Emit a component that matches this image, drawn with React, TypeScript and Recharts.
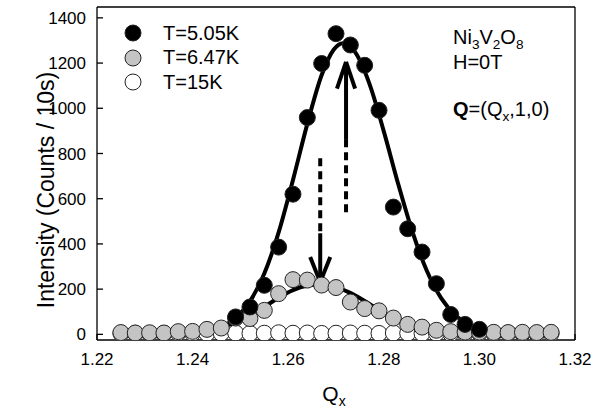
import { ComposedChart, Scatter, Line, XAxis, YAxis, ReferenceLine, Legend } from "recharts"

// measured Qx positions (step 0.003)
const qx = [
    1.225, 1.228, 1.231, 1.234, 1.237, 1.240, 1.243, 1.246, 1.249, 1.252, 1.255,
    1.258, 1.261, 1.264, 1.267, 1.270, 1.273, 1.276, 1.279, 1.282, 1.285, 1.288,
    1.291, 1.294, 1.297, 1.300, 1.303, 1.306, 1.309, 1.312, 1.315
]

// T = 15K
const t15 = [4, 5, 3, 4, 6, 5, 4, 5, 6, 4, 5, 7, 5, 6, 4, 5, 6, 5, 4, 6, 5, 4, 5, 3, 4, 5, 4, 5, 4, 3, 4]

// T = 6.47K
const t647 = [8, 6, 7, 6, 12, 13, 22, 28, 72, 70, 106, 180, 242, 240, 218, 207, 143, 114, 104, 72, 44, 32, 18, 12, 10, 10, 9, 8, 9, 8, 9]

// T = 5.05K (only visible from 1.249 to 1.300)
const qxLow = [1.249, 1.252, 1.255, 1.258, 1.261, 1.264, 1.267, 1.270, 1.273, 1.276, 1.279, 1.282, 1.285, 1.288, 1.291, 1.294, 1.297, 1.300]
const t505 = [77, 121, 217, 386, 620, 959, 1198, 1330, 1280, 1190, 991, 563, 467, 364, 224, 88, 44, 22]

// fitted curves
const fitQ5 = [1.225, 1.235, 1.240, 1.244, 1.248, 1.252, 1.255, 1.258, 1.261, 1.264, 1.267, 1.2695, 1.2715, 1.274, 1.277, 1.280, 1.283, 1.286, 1.289, 1.292, 1.295, 1.298, 1.302, 1.307, 1.315]
const fit505 = [3, 4, 7, 19, 56, 146, 269, 451, 683, 931, 1147, 1259, 1288, 1248, 1108, 898, 666, 453, 281, 160, 84, 41, 15, 5, 3]

const fitQ6 = [1.225, 1.235, 1.240, 1.244, 1.248, 1.252, 1.255, 1.258, 1.261, 1.264, 1.2665, 1.2695, 1.2725, 1.276, 1.279, 1.282, 1.285, 1.288, 1.291, 1.295, 1.300, 1.307, 1.315]
const fit647 = [8, 9, 13, 22, 45, 85, 122, 162, 196, 216, 221, 212, 188, 148, 108, 70, 44, 27, 17, 11, 9, 8, 8]

const xTicks = [1.22, 1.24, 1.26, 1.28, 1.30, 1.32]
const yTicks = [0, 200, 400, 600, 800, 1000, 1200, 1400]

// arrows: qx, dashed part start, solid part start, tip, head wings
const arrowUp = { q: 1.2721, dashFrom: 540, solidFrom: 860, tip: 1205, wingQ: 0.0019, wingY: 1087 }
const arrowDown = { q: 1.2667, dashFrom: 779, solidFrom: 447, tip: 231, wingQ: 0.0021, wingY: 342 }

const legendItems = [
    { name: "T=5.05K", fill: "#000000" },
    { name: "T=6.47K", fill: "#c4c4c4" },
    { name: "T=15K", fill: "#ffffff" }
]

const font = "'Liberation Sans', Arial, Helvetica, sans-serif"

const whiteData = qx.map((q, i) => ({ q, v: t15[i] }))
const greyData = qx.map((q, i) => ({ q, v: t647[i] }))
const blackData = qxLow.map((q, i) => ({ q, v: t505[i] }))
const fitBlack = fitQ5.map((q, i) => ({ q, v: fit505[i] }))
const fitGrey = fitQ6.map((q, i) => ({ q, v: fit647[i] }))

const dot = (fill: string) => (p: any) => (
    <circle cx={p.cx} cy={p.cy} r={8} fill={fill} stroke="#222" strokeWidth={1} />
)

function arrowLines(a: typeof arrowUp, key: string) {
    return [
        <ReferenceLine key={key + "d"} segment={[{ x: a.q, y: a.dashFrom }, { x: a.q, y: a.solidFrom }]}
            stroke="#000" strokeWidth={4} strokeDasharray="8 5" ifOverflow="visible" />,
        <ReferenceLine key={key + "s"} segment={[{ x: a.q, y: a.solidFrom }, { x: a.q, y: a.tip }]}
            stroke="#000" strokeWidth={4} ifOverflow="visible" />,
        <ReferenceLine key={key + "l"} segment={[{ x: a.q - a.wingQ, y: a.wingY }, { x: a.q, y: a.tip }]}
            stroke="#000" strokeWidth={4} ifOverflow="visible" />,
        <ReferenceLine key={key + "r"} segment={[{ x: a.q + a.wingQ, y: a.wingY }, { x: a.q, y: a.tip }]}
            stroke="#000" strokeWidth={4} ifOverflow="visible" />
    ]
}

const sub = { fontSize: "0.68em", verticalAlign: "-0.35em" }
const note = { position: "absolute" as const, left: 453, fontSize: 20, lineHeight: "24px", color: "#000" }

export default function App() {

    return (

        <div style={{ position: "absolute", left: 0, top: 0, width: 603, height: 408, background: "#fff", fontFamily: font }}>

            <ComposedChart width={603} height={408} margin={{ top: 0, right: 0, bottom: 0, left: 0 }}>

                <XAxis type="number" dataKey="q" domain={[1.22, 1.32]} ticks={xTicks} allowDataOverflow
                    tickFormatter={(v: number) => v.toFixed(2)} height={68} tickSize={-6} tickMargin={19}
                    stroke="#000" strokeWidth={1.3} tick={{ fill: "#000", fontSize: 17, fontFamily: font }}
                    label={{
                        content: () => (
                            <text x={334} y={401} textAnchor="middle" fontSize={21} fontFamily={font} fill="#000">
                                Q<tspan fontSize={14} dy={5}>x</tspan>
                            </text>
                        )
                    }} />

                <XAxis xAxisId="top" orientation="top" type="number" dataKey="q" domain={[1.22, 1.32]} ticks={xTicks}
                    allowDataOverflow height={7} tickSize={-6} tick={false} stroke="#000" strokeWidth={1.3} />

                <YAxis type="number" domain={[-25, 1448]} ticks={yTicks} allowDataOverflow width={97}
                    tickSize={-6} tickMargin={17} stroke="#000" strokeWidth={1.3}
                    tick={{ fill: "#000", fontSize: 17, fontFamily: font }}
                    label={{
                        content: () => (
                            <text x={54} y={190} transform="rotate(-90 54 190)" textAnchor="middle"
                                fontSize={23} fontFamily={font} fill="#000">
                                Intensity (Counts / 10s)
                            </text>
                        )
                    }} />

                <YAxis yAxisId="right" orientation="right" type="number" domain={[-25, 1448]} ticks={yTicks}
                    allowDataOverflow width={28} tickSize={-6} tick={false} stroke="#000" strokeWidth={1.3} />

                <Scatter data={whiteData} dataKey="v" isAnimationActive={false} shape={dot("#ffffff")} />
                <Scatter data={greyData} dataKey="v" isAnimationActive={false} shape={dot("#c4c4c4")} />
                <Scatter data={blackData} dataKey="v" isAnimationActive={false} shape={dot("#000000")} />

                <Line data={fitGrey} dataKey="v" type="monotone" stroke="#000" strokeWidth={4} dot={false}
                    activeDot={false} isAnimationActive={false} />
                <Line data={fitBlack} dataKey="v" type="monotone" stroke="#000" strokeWidth={4} dot={false}
                    activeDot={false} isAnimationActive={false} />

                {arrowLines(arrowUp, "up")}
                {arrowLines(arrowDown, "down")}

                <Legend layout="vertical" align="center" verticalAlign="middle"
                    wrapperStyle={{ left: 124, top: 21, width: "auto", height: "auto" }}
                    content={() => (
                        <div style={{ fontFamily: font, fontSize: 20, color: "#000" }}>
                            {legendItems.map((it) => (
                                <div key={it.name} style={{ display: "flex", alignItems: "center", height: 24.5 }}>
                                    <svg width={18} height={18} style={{ marginRight: 21 }}>
                                        <circle cx={9} cy={9} r={8} fill={it.fill} stroke="#222" strokeWidth={1} />
                                    </svg>
                                    <span>{it.name}</span>
                                </div>
                            ))}
                        </div>
                    )} />

            </ComposedChart>

            <div style={{ ...note, top: 25 }}>
                Ni<span style={sub}>3</span>V<span style={sub}>2</span>O<span style={sub}>8</span>
            </div>
            <div style={{ ...note, top: 50 }}>H=0T</div>
            <div style={{ ...note, top: 97 }}>
                <b>Q</b>=(Q<span style={sub}>x</span>,1,0)
            </div>

        </div>

    )

}
